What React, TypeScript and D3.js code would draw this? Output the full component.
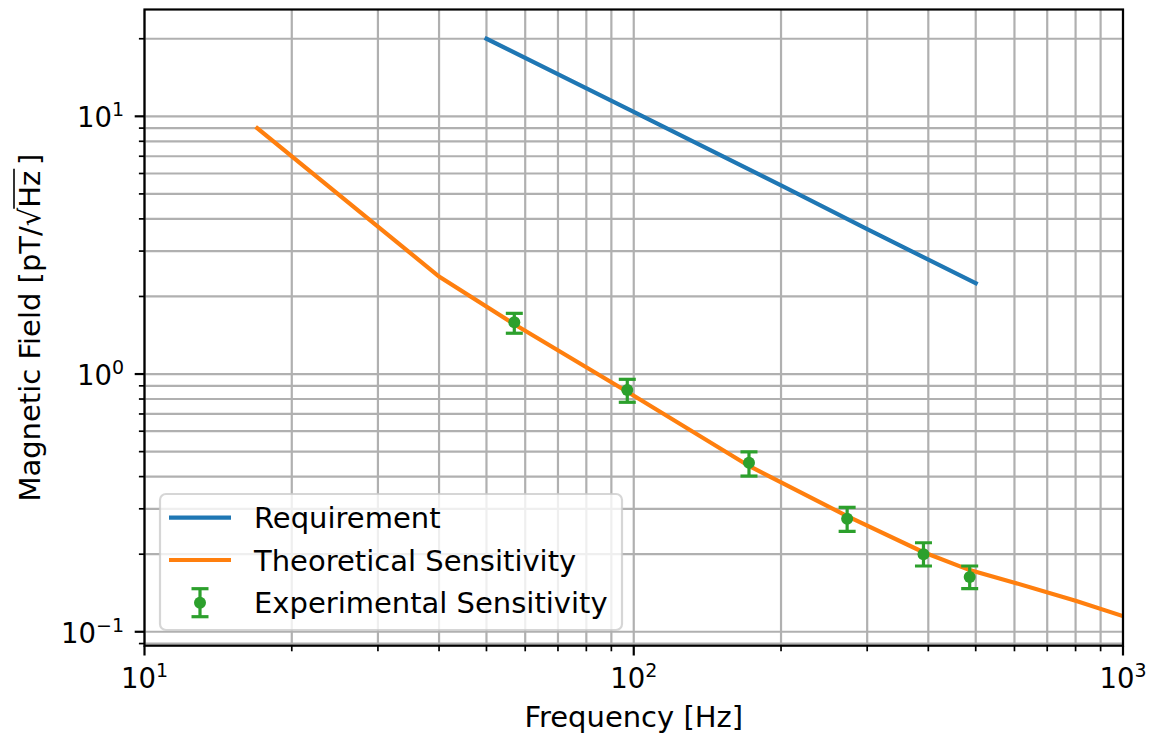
import React, { useEffect, useRef } from 'react';
import * as d3 from 'd3';

// Requirement curve (Hz, pT/sqrt(Hz))
const reqFreq = [50, 100, 200, 300, 500];
const reqField = [20, 10.4, 5.4, 3.65, 2.25];

// Theoretical sensitivity
const theoFreq = [17, 40, 57, 97, 172, 273, 390, 486, 600, 800, 1000];
const theoField = [9.0, 2.39, 1.56, 0.854, 0.44, 0.281, 0.204, 0.1735, 0.155, 0.132, 0.115];

// Experimental sensitivity with error bars
const expFreq = [57, 97, 172, 273, 391, 486];
const expField = [1.587, 0.867, 0.453, 0.2745, 0.2, 0.163];
const expLow = [1.44, 0.777, 0.402, 0.245, 0.18, 0.147];
const expHigh = [1.72, 0.954, 0.499, 0.304, 0.2215, 0.18];

const legendLabels = ['Requirement', 'Theoretical Sensitivity', 'Experimental Sensitivity'];
const xMajor = [10, 100, 1000];
const yMajor = [0.1, 1, 10];

const BLUE = '#1f77b4';
const ORANGE = '#ff7f0e';
const GREEN = '#2ca02c';
const FONT = "'DejaVu Sans', sans-serif";

const App = () => {
  const ref = useRef<SVGSVGElement>(null);

  useEffect(() => {
    const svg = d3.select(ref.current);
    svg.selectAll('*').remove();

    const left = 144.5, right = 1123, top = 9.5, bottom = 645.7;

    const x = d3.scaleLog().domain([10, 1000]).range([left, right]);
    const y = d3.scaleLog().domain([0.0883, 25.97]).range([bottom, top]);

    svg.append('rect').attr('width', 1152).attr('height', 736).attr('fill', '#fff');

    svg.append('clipPath').attr('id', 'plotclip')
      .append('rect')
      .attr('x', left).attr('y', top)
      .attr('width', right - left).attr('height', bottom - top);

    // grid (major + minor)
    const grid = svg.append('g').attr('stroke', '#b0b0b0').attr('stroke-width', 2.2);
    x.ticks().forEach((t) => {
      grid.append('line').attr('x1', x(t)).attr('x2', x(t)).attr('y1', top).attr('y2', bottom);
    });
    y.ticks().forEach((t) => {
      grid.append('line').attr('x1', left).attr('x2', right).attr('y1', y(t)).attr('y2', y(t));
    });

    const plot = svg.append('g').attr('clip-path', 'url(#plotclip)');

    const line = d3.line<[number, number]>()
      .x((d) => x(d[0]))
      .y((d) => y(d[1]))
      .curve(d3.curveLinear);

    plot.append('path')
      .datum(reqFreq.map((f, i) => [f, reqField[i]] as [number, number]))
      .attr('fill', 'none').attr('stroke', BLUE).attr('stroke-width', 4.2)
      .attr('stroke-linecap', 'square')
      .attr('d', line);

    plot.append('path')
      .datum(theoFreq.map((f, i) => [f, theoField[i]] as [number, number]))
      .attr('fill', 'none').attr('stroke', ORANGE).attr('stroke-width', 4.2)
      .attr('stroke-linecap', 'square')
      .attr('d', line);

    // error bars
    const eb = plot.append('g').attr('stroke', GREEN).attr('stroke-width', 3.2);
    expFreq.forEach((f, i) => {
      const cx = x(f);
      eb.append('line').attr('x1', cx).attr('x2', cx).attr('y1', y(expLow[i])).attr('y2', y(expHigh[i]));
      eb.append('line').attr('x1', cx - 8.5).attr('x2', cx + 8.5).attr('y1', y(expLow[i])).attr('y2', y(expLow[i]));
      eb.append('line').attr('x1', cx - 8.5).attr('x2', cx + 8.5).attr('y1', y(expHigh[i])).attr('y2', y(expHigh[i]));
      plot.append('circle').attr('cx', cx).attr('cy', y(expField[i])).attr('r', 6).attr('fill', GREEN);
    });

    // spines
    svg.append('rect')
      .attr('x', left).attr('y', top)
      .attr('width', right - left).attr('height', bottom - top)
      .attr('fill', 'none').attr('stroke', '#000').attr('stroke-width', 2.2);

    // ticks
    const ticks = svg.append('g').attr('stroke', '#000');
    x.ticks().forEach((t) => {
      const major = xMajor.includes(t);
      ticks.append('line')
        .attr('x1', x(t)).attr('x2', x(t))
        .attr('y1', bottom).attr('y2', bottom + (major ? 9.8 : 5.6))
        .attr('stroke-width', major ? 2.2 : 1.7);
    });
    y.ticks().forEach((t) => {
      const major = yMajor.some((m) => Math.abs(m - t) < 1e-9);
      ticks.append('line')
        .attr('x1', left).attr('x2', left - (major ? 9.8 : 5.6))
        .attr('y1', y(t)).attr('y2', y(t))
        .attr('stroke-width', major ? 2.2 : 1.7);
    });

    const expLabel = (sel: any, v: number) => {
      const e = Math.round(Math.log10(v));
      sel.append('tspan').text('10');
      sel.append('tspan').attr('dy', -11).attr('font-size', 19)
        .text(e < 0 ? '\u2212' + Math.abs(e) : String(e));
    };

    xMajor.forEach((t) => {
      const tx = svg.append('text')
        .attr('x', x(t)).attr('y', 688)
        .attr('text-anchor', 'middle')
        .attr('font-family', FONT).attr('font-size', 27.5).attr('fill', '#000');
      expLabel(tx, t);
    });
    yMajor.forEach((t) => {
      const tx = svg.append('text')
        .attr('x', 124).attr('y', y(t) + 11)
        .attr('text-anchor', 'end')
        .attr('font-family', FONT).attr('font-size', 27.5).attr('fill', '#000');
      expLabel(tx, t);
    });

    // axis labels
    svg.append('text')
      .attr('x', (left + right) / 2).attr('y', 727)
      .attr('text-anchor', 'middle')
      .attr('font-family', FONT).attr('font-size', 29).attr('fill', '#000')
      .text('Frequency [Hz]');

    const yl = svg.append('g').attr('transform', `translate(39.5,${(top + bottom) / 2}) rotate(-90)`);
    const ylText = yl.append('text')
      .attr('x', 0).attr('y', 0)
      .attr('text-anchor', 'middle')
      .attr('font-family', FONT).attr('font-size', 29).attr('fill', '#000');
    const pre = 'Magnetic Field [pT/';
    const rad = '\u221A';
    const under = 'Hz';
    const post = '\u2009]';
    ylText.text(pre + rad + under + post);
    const node = ylText.node() as SVGTextElement;
    const total = node.getComputedTextLength();
    const x0 = -total / 2;
    const radEnd = x0 + node.getSubStringLength(0, pre.length + 1);
    const hzEnd = x0 + node.getSubStringLength(0, pre.length + 1 + under.length);
    yl.append('line')
      .attr('x1', radEnd - 1).attr('x2', hzEnd + 2)
      .attr('y1', -25.5).attr('y2', -25.5)
      .attr('stroke', '#000').attr('stroke-width', 1.6);

    // legend
    const lg = svg.append('g');
    lg.append('rect')
      .attr('x', 160).attr('y', 494).attr('width', 462).attr('height', 136)
      .attr('rx', 6)
      .attr('fill', 'rgba(255,255,255,0.8)')
      .attr('stroke', 'rgba(204,204,204,0.8)').attr('stroke-width', 2.2);
    const rowY = [517.7, 560, 602.7];
    legendLabels.forEach((lab, i) => {
      const ry = rowY[i];
      if (i < 2) {
        lg.append('line')
          .attr('x1', 169).attr('x2', 231).attr('y1', ry).attr('y2', ry)
          .attr('stroke', i === 0 ? BLUE : ORANGE).attr('stroke-width', 4.2);
      } else {
        const g = lg.append('g').attr('stroke', GREEN).attr('stroke-width', 3.2);
        g.append('line').attr('x1', 200).attr('x2', 200).attr('y1', ry - 14).attr('y2', ry + 14);
        g.append('line').attr('x1', 191.5).attr('x2', 208.5).attr('y1', ry - 14).attr('y2', ry - 14);
        g.append('line').attr('x1', 191.5).attr('x2', 208.5).attr('y1', ry + 14).attr('y2', ry + 14);
        lg.append('circle').attr('cx', 200).attr('cy', ry).attr('r', 6).attr('fill', GREEN);
      }
      lg.append('text')
        .attr('x', 254).attr('y', ry + 10.5)
        .attr('font-family', FONT).attr('font-size', 29).attr('fill', '#000')
        .text(lab);
    });
  }, []);

  return (
    <svg
      ref={ref}
      width={1152}
      height={736}
      style={{ position: 'absolute', left: 0, top: 0 }}
    />
  );
};

export default App;
